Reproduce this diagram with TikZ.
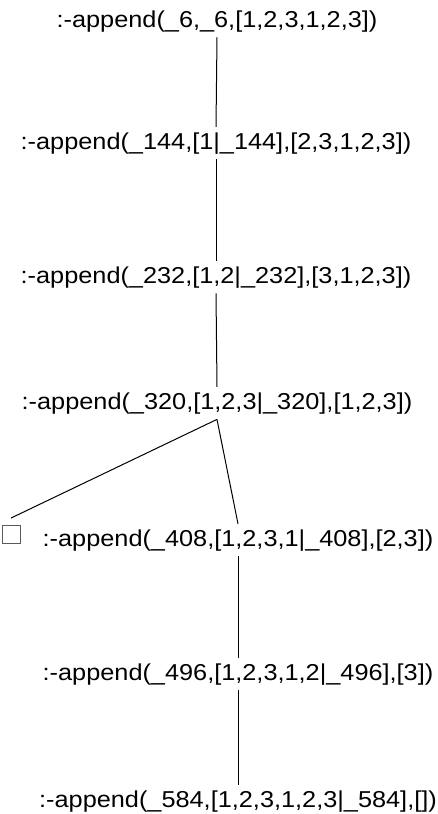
\documentclass[tikz,border=0pt]{standalone}
\usepackage{fontspec}
\setmainfont{Liberation Sans}[FakeStretch=1.1]
\tikzset{every picture/.style={line width=1pt}}
\tikzset{goal/.style={anchor=base, inner sep=5pt, font=\fontsize{23}{27}\selectfont},
  leaf/.style={draw={rgb, 255:red, 90; green, 90; blue, 90 }, line width=0.9pt, minimum size=18pt, inner sep=0pt}}

\begin{document}
\begin{tikzpicture}[x=1pt,y=1pt,yscale=-1,xscale=1]

\useasboundingbox (0,0) rectangle (437,814);

% Text Node
\draw (217,27) node [goal] (g1) {:-append(\_6,\_6,[1,2,3,1,2,3])};
% Text Node
\draw (216,149) node [goal] (g2) {:-append(\_144,[1|\_144],[2,3,1,2,3])};
% Text Node
\draw (216,283) node [goal] (g3) {:-append(\_232,[1,2|\_232],[3,1,2,3])};
% Text Node
\draw (217,409) node [goal] (g4) {:-append(\_320,[1,2,3|\_320],[1,2,3])};
% Text Node
\draw (238,546) node [goal] (g5) {:-append(\_408,[1,2,3,1|\_408],[2,3])};
% Text Node
\draw (238,680) node [goal] (g6) {:-append(\_496,[1,2,3,1,2|\_496],[3])};
% Text Node
\draw (238,807) node [goal] (g7) {:-append(\_584,[1,2,3,1,2,3|\_584],[])};

%Rect
\draw (11,534.5) node [leaf] (done) {};

%Straight Lines
\draw (g1.south) -- (g2.north);
\draw (g2.south) -- (g3.north);
\draw (g3.south) -- (g4.north);
\draw (g4.south) -- ([yshift=-7pt]done.north);
\draw (g4.south) -- (g5.north);
\draw (g5.south) -- (g6.north);
\draw (g6.south) -- (g7.north);

\end{tikzpicture}
\end{document}
